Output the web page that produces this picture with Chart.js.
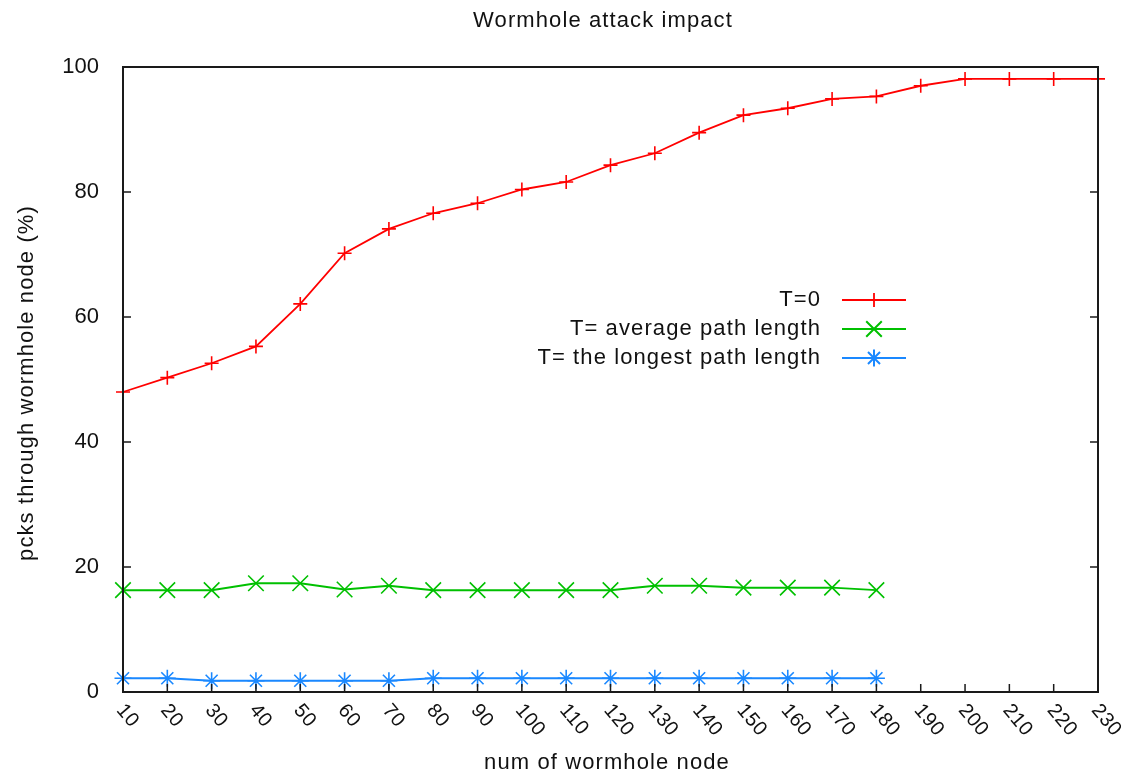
<!DOCTYPE html>
<html>
<head>
<meta charset="utf-8">
<title>Wormhole attack impact</title>
<script src="https://cdn.jsdelivr.net/npm/chart.js@4.4.1/dist/chart.umd.min.js"></script>
<style>
  html, body { margin: 0; padding: 0; background: #fff; }
  #wrap { width: 1135px; height: 775px; }
</style>
</head>
<body>
<div id="wrap"><canvas id="chart" width="1135" height="775"></canvas></div>
<script>
const nodeCounts = ['10', '20', '30', '40', '50', '60', '70', '80', '90', '100', '110', '120',
  '130', '140', '150', '160', '170', '180', '190', '200', '210', '220', '230'];

const tZero = [48.0, 50.3, 52.6, 55.3, 62.1, 70.2, 74.1, 76.6, 78.2, 80.4, 81.6, 84.3,
  86.2, 89.5, 92.3, 93.4, 94.9, 95.3, 97.0, 98.1, 98.1, 98.1, 98.1];
const tAverage = [16.3, 16.3, 16.3, 17.4, 17.4, 16.4, 17.0, 16.3, 16.3, 16.3, 16.3, 16.3,
  17.0, 17.0, 16.7, 16.7, 16.7, 16.3];
const tLongest = [2.2, 2.2, 1.8, 1.8, 1.8, 1.8, 1.8, 2.2, 2.2, 2.2, 2.2, 2.2,
  2.2, 2.2, 2.2, 2.2, 2.2, 2.2];

const yTicks = [0, 20, 40, 60, 80, 100];

const FONT = '"Liberation Sans", Arial, sans-serif';
const AXIS_COLOR = '#1a1a1a';
const TEXT_COLOR = '#111';

// gnuplot style frame, inward ticks, rotated x labels, titles and inside legend
const gnuplotFrame = {
  id: 'gnuplotFrame',
  afterDraw(chart) {
    const { ctx, chartArea: a, scales: { x, y } } = chart;
    ctx.save();

    ctx.strokeStyle = AXIS_COLOR;
    ctx.lineWidth = 2;
    ctx.strokeRect(a.left, a.top, a.right - a.left, a.bottom - a.top);

    ctx.lineWidth = 1.5;
    ctx.beginPath();
    yTicks.forEach(v => {
      const py = y.getPixelForValue(v);
      ctx.moveTo(a.left, py); ctx.lineTo(a.left + 8, py);
      ctx.moveTo(a.right, py); ctx.lineTo(a.right - 8, py);
    });
    nodeCounts.forEach((c, i) => {
      const px = x.getPixelForValue(i);
      ctx.moveTo(px, a.bottom); ctx.lineTo(px, a.bottom - 8);
    });
    ctx.stroke();

    ctx.fillStyle = TEXT_COLOR;
    ctx.font = `20px ${FONT}`;
    ctx.letterSpacing = '0.5px';
    ctx.textAlign = 'left';
    ctx.textBaseline = 'middle';
    nodeCounts.forEach((c, i) => {
      const px = x.getPixelForValue(i);
      ctx.save();
      ctx.translate(px - 3, a.bottom + 15);
      ctx.rotate(50 * Math.PI / 180);
      ctx.fillText(c, 0, 0);
      ctx.restore();
    });

    ctx.letterSpacing = '1.1px';
    ctx.textAlign = 'center';
    ctx.font = `22px ${FONT}`;
    ctx.fillText('Wormhole attack impact', 603, 21);
    ctx.fillText('num of wormhole node', 607, 763);
    ctx.save();
    ctx.translate(27, 383);
    ctx.rotate(-Math.PI / 2);
    ctx.fillText('pcks through wormhole node (%)', 0, 0);
    ctx.restore();

    // legend inside the plot, text right aligned before the sample line
    const rows = [300, 329, 358];
    chart.data.datasets.forEach((ds, i) => {
      const ly = rows[i];
      ctx.font = `22px ${FONT}`;
      ctx.textAlign = 'right';
      ctx.fillStyle = TEXT_COLOR;
      ctx.fillText(ds.label, 821, ly);
      ctx.strokeStyle = ds.borderColor;
      ctx.lineWidth = ds.borderWidth;
      ctx.beginPath();
      ctx.moveTo(842, ly); ctx.lineTo(906, ly);
      ctx.stroke();
      Chart.helpers.drawPoint(ctx, {
        pointStyle: ds.pointStyle,
        radius: ds.pointRadius,
        borderWidth: ds.pointBorderWidth,
        rotation: 0
      }, 874, ly);
    });

    ctx.restore();
  }
};

const series = (label, data, color, style, radius, width) => ({
  label,
  data,
  borderColor: color,
  backgroundColor: color,
  borderWidth: width,
  pointStyle: style,
  pointRadius: radius,
  pointBorderWidth: 1.6,
  pointBorderColor: color,
  pointHoverRadius: radius,
  tension: 0,
  clip: false
});

new Chart(document.getElementById('chart'), {
  type: 'line',
  data: {
    labels: nodeCounts,
    datasets: [
      series('T=0', tZero, '#ff0000', 'cross', 7, 1.8),
      series('T= average path length', tAverage, '#00c000', 'crossRot', 11, 2),
      series('T= the longest path length', tLongest, '#1a88ff', 'star', 8.5, 2)
    ]
  },
  options: {
    responsive: false,
    animation: false,
    devicePixelRatio: 1,
    layout: { padding: { left: 0, right: 37, top: 67, bottom: 0 } },
    plugins: {
      legend: { display: false },
      title: { display: false },
      tooltip: { enabled: false }
    },
    scales: {
      x: {
        type: 'category',
        offset: false,
        grid: { display: false, drawTicks: false },
        border: { display: false },
        ticks: { display: false },
        afterFit(scale) { scale.height = 83; }
      },
      y: {
        min: 0,
        max: 100,
        grid: { display: false, drawTicks: false },
        border: { display: false },
        ticks: {
          stepSize: 20,
          padding: 24,
          color: TEXT_COLOR,
          font: { family: FONT, size: 22 }
        },
        afterFit(scale) { scale.width = 123; }
      }
    }
  },
  plugins: [gnuplotFrame]
});
</script>
</body>
</html>
